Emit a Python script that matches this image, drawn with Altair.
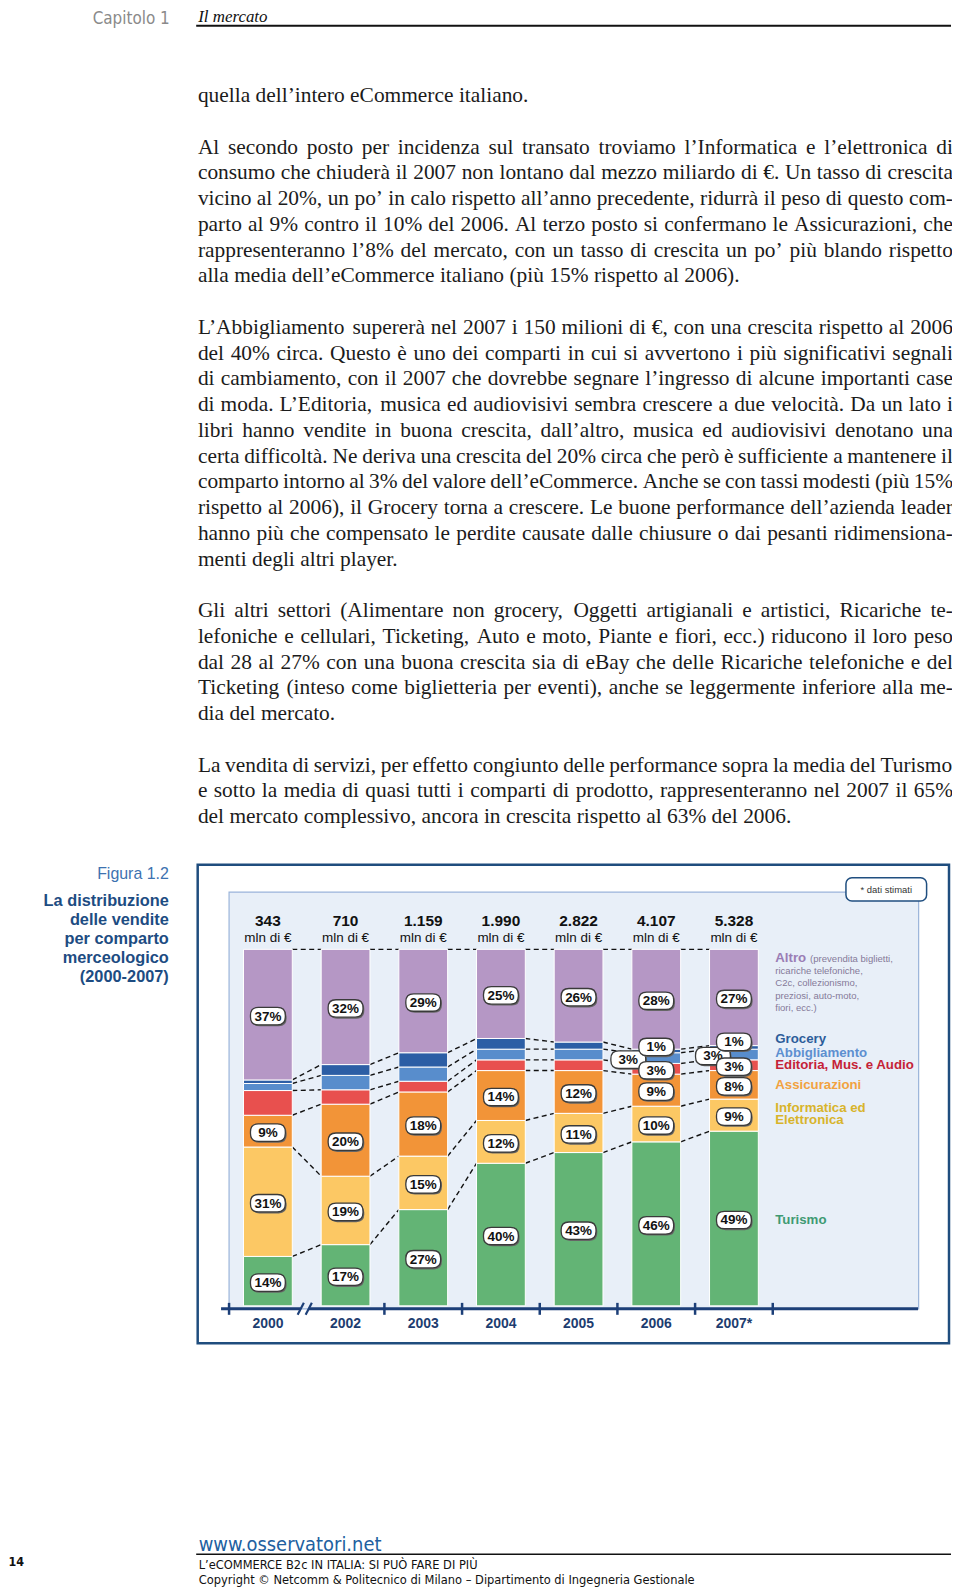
import altair as alt
import pandas as pd

# ---------------- chart data ----------------
years = ["2000", "2002", "2003", "2004", "2005", "2006", "2007*"]
totals = ["343", "710", "1.159", "1.990", "2.822", "4.107", "5.328"]
categories = ["Turismo", "Informatica ed Elettronica", "Assicurazioni",
              "Editoria, Mus. e Audio", "Abbigliamento", "Grocery", "Altro"]
turismo = [14, 17, 27, 40, 43, 46, 49]
informatica = [31, 19, 15, 12, 11, 10, 9]
assicurazioni = [9, 20, 18, 14, 12, 9, 8]
editoria = [7, 4, 3, 3, 3, 3, 3]
abbigliamento = [2, 4, 4, 3, 3, 3, 3]
grocery = [1, 3, 4, 3, 2, 1, 1]
altro = [37, 32, 29, 25, 26, 28, 27]
cat_colors = ["#63b475", "#fcc864", "#f29438", "#e8504e", "#588dcc", "#2c5ea5", "#b597c5"]

# ---------------- page text ----------------
paragraph_lines = [
    (0, "quella dell’intero eCommerce italiano.", False),
    (2, "Al secondo posto per incidenza sul transato troviamo l’Informatica e l’elettronica di", True),
    (3, "consumo che chiuderà il 2007 non lontano dal mezzo miliardo di €. Un tasso di crescita", True),
    (4, "vicino al 20%, un po’ in calo rispetto all’anno precedente, ridurrà il peso di questo com-", True),
    (5, "parto al 9% contro il 10% del 2006. Al terzo posto si confermano le Assicurazioni, che", True),
    (6, "rappresenteranno l’8% del mercato, con un tasso di crescita un po’ più blando rispetto", True),
    (7, "alla media dell’eCommerce italiano (più 15% rispetto al 2006).", False),
    (9, "L’Abbigliamento supererà nel 2007 i 150 milioni di €, con una crescita rispetto al 2006", True),
    (10, "del 40% circa. Questo è uno dei comparti in cui si avvertono i più significativi segnali", True),
    (11, "di cambiamento, con il 2007 che dovrebbe segnare l’ingresso di alcune importanti case", True),
    (12, "di moda. L’Editoria, musica ed audiovisivi sembra crescere a due velocità. Da un lato i", True),
    (13, "libri hanno vendite in buona crescita, dall’altro, musica ed audiovisivi denotano una", True),
    (14, "certa difficoltà. Ne deriva una crescita del 20% circa che però è sufficiente a mantenere il", True),
    (15, "comparto intorno al 3% del valore dell’eCommerce. Anche se con tassi modesti (più 15%", True),
    (16, "rispetto al 2006), il Grocery torna a crescere. Le buone performance dell’azienda leader", True),
    (17, "hanno più che compensato le perdite causate dalle chiusure o dai pesanti ridimensiona-", True),
    (18, "menti degli altri player.", False),
    (20, "Gli altri settori (Alimentare non grocery, Oggetti artigianali e artistici, Ricariche te-", True),
    (21, "lefoniche e cellulari, Ticketing, Auto e moto, Piante e fiori, ecc.) riducono il loro peso", True),
    (22, "dal 28 al 27% con una buona crescita sia di eBay che delle Ricariche telefoniche e del", True),
    (23, "Ticketing (inteso come biglietteria per eventi), anche se leggermente inferiore alla me-", True),
    (24, "dia del mercato.", False),
    (26, "La vendita di servizi, per effetto congiunto delle performance sopra la media del Turismo", True),
    (27, "e sotto la media di quasi tutti i comparti di prodotto, rappresenteranno nel 2007 il 65%", True),
    (28, "del mercato complessivo, ancora in crescita rispetto al 63% del 2006.", False),
]
caption_lines = ["La distribuzione", "delle vendite", "per comparto", "merceologico", "(2000-2007)"]
altro_notes = ["(prevendita biglietti,", "ricariche telefoniche,", "C2c, collezionismo,",
               "preziosi,  auto-moto,", "fiori, ecc.)"]

SANS = "Liberation Sans, Arial, sans-serif"
NARROW = "Liberation Sans Narrow, DejaVu Sans Condensed, sans-serif"
SERIF = "Liberation Serif, Times New Roman, serif"
OFF = 8  # page margin

ONE = pd.DataFrame({"k": [0]})


def T(s, x, y, size, color="#111111", font=SANS, weight="normal", align="left",
      baseline="middle", style="normal"):
    return alt.Chart(ONE).mark_text(
        text=s, font=font, fontSize=size, fontWeight=weight, fontStyle=style,
        align=align, baseline=baseline, color=color
    ).encode(x=alt.value(x - OFF), y=alt.value(y - OFF))


def RECT(x1, y1, x2, y2, fill, stroke=None, sw=1, radius=0):
    kw = dict(fill=fill)
    if stroke:
        kw["stroke"] = stroke
        kw["strokeWidth"] = sw
    if radius:
        kw["cornerRadius"] = radius
    return alt.Chart(ONE).mark_rect(**kw).encode(
        x=alt.value(x1 - OFF), x2=alt.value(x2 - OFF),
        y=alt.value(y1 - OFF), y2=alt.value(y2 - OFF))


def LINE(x1, y1, x2, y2, color, width):
    return alt.Chart(ONE).mark_rule(color=color, strokeWidth=width).encode(
        x=alt.value(x1 - OFF), x2=alt.value(x2 - OFF),
        y=alt.value(y1 - OFF), y2=alt.value(y2 - OFF))


# ---------------- chart tables ----------------
series = [turismo, informatica, assicurazioni, editoria, abbigliamento, grocery, altro]
HW = 0.314  # half bar width in band units
bar_rows, cum = [], {}
for i, yr in enumerate(years):
    tot = sum(s[i] for s in series)
    c = 0.0
    cum[i] = []
    for k, cat in enumerate(categories):
        v = series[k][i] * 100.0 / tot
        bar_rows.append(dict(year=yr, pos=i, cat=cat, lo=c, hi=c + v, share=series[k][i]))
        c += v
        cum[i].append(c)
bars = pd.DataFrame(bar_rows)
bars["xa"] = bars["pos"] - HW
bars["xb"] = bars["pos"] + HW

conn_rows = []
for i in range(len(years) - 1):
    for k in range(len(categories)):
        conn_rows.append(dict(xa=i + HW, xb=i + 1 - HW, ya=cum[i][k], yb=cum[i + 1][k]))
conn = pd.DataFrame(conn_rows)

big = {"Turismo", "Informatica ed Elettronica", "Assicurazioni", "Altro"}
shift = {("2006", "Grocery"): (0, 1.54), ("2006", "Abbigliamento"): (-0.36, 0),
         ("2007*", "Grocery"): (0, 1.96), ("2007*", "Abbigliamento"): (-0.27, 0)}
lab_rows = []
for r in bar_rows:
    if r["cat"] in big or r["year"] in ("2006", "2007*"):
        dx, dy = shift.get((r["year"], r["cat"]), (0, 0))
        lab_rows.append(dict(lx=r["pos"] + dx, ly=(r["lo"] + r["hi"]) / 2 + dy,
                             lab=f"{r['share']}%",
                             back=(r["cat"] == "Abbigliamento")))
labs = pd.DataFrame(lab_rows)
labs_back = labs[labs["back"]]
labs_front = labs[~labs["back"]]

tot_df = pd.DataFrame({"pos": list(range(len(years))), "total": totals, "year": years})

XS = alt.Scale(domain=[-0.5, 6.5], range=[230 - OFF, 776 - OFF], nice=False, zero=False)
YS = alt.Scale(domain=[0, 100], range=[1308 - OFF, 950 - OFF], nice=False, zero=False)

layers = []
# frames
layers.append(RECT(198.5, 865, 953, 1345.5, "white", "#1f4d7e", 2.5))
layers.append(RECT(230, 892.5, 922.5, 1311, "#e8eff8", "#9ab4da", 1.2))
layers.append(RECT(849.5, 878, 930.5, 901.5, "white", "#204f80", 1.5, 6))
layers.append(T("* dati stimati", 890, 890, 9.5, "#333333", align="center"))

# connectors
layers.append(alt.Chart(conn).mark_rule(strokeDash=[5, 3.5], strokeWidth=1.4, color="#111111").encode(
    x=alt.X("xa:Q", scale=XS, axis=None), x2="xb:Q",
    y=alt.Y("ya:Q", scale=YS, axis=None), y2="yb:Q"))

# stacked bars
layers.append(alt.Chart(bars).mark_rect(stroke="white", strokeWidth=1).encode(
    x=alt.X("xa:Q", scale=XS, axis=None), x2="xb:Q",
    y=alt.Y("lo:Q", scale=YS, axis=None), y2="hi:Q",
    color=alt.Color("cat:N", scale=alt.Scale(domain=categories, range=cat_colors), legend=None)))

# axis
axis_seg = pd.DataFrame({"a": [-0.603, 0.526], "b": [0.423, 8.37]})
layers.append(alt.Chart(axis_seg).mark_rule(color="#1c3f78", strokeWidth=3).encode(
    x=alt.X("a:Q", scale=XS, axis=None), x2="b:Q", y=alt.value(1311 - OFF)))
ticks = pd.DataFrame({"t": [-0.5, 1.5, 2.5, 3.5, 4.5, 5.5, 6.5]})
layers.append(alt.Chart(ticks).mark_rule(color="#1c3f78", strokeWidth=2.5).encode(
    x=alt.X("t:Q", scale=XS, axis=None), y=alt.value(1305 - OFF), y2=alt.value(1317 - OFF)))
slashes = pd.DataFrame({"a": [0.383, 0.486], "b": [0.463, 0.566]})
layers.append(alt.Chart(slashes).mark_rule(color="#1c3f78", strokeWidth=2.2).encode(
    x=alt.X("a:Q", scale=XS, axis=None), x2="b:Q",
    y=alt.value(1317 - OFF), y2=alt.value(1305 - OFF)))
layers.append(alt.Chart(tot_df).mark_text(font=SANS, fontWeight="bold", fontSize=14,
                                          color="#1d3d70", baseline="middle").encode(
    x=alt.X("pos:Q", scale=XS, axis=None), y=alt.value(1326 - OFF), text="year:N"))

# totals above bars
layers.append(alt.Chart(tot_df).mark_text(font=SANS, fontWeight="bold", fontSize=15.5,
                                          color="#111111", baseline="middle").encode(
    x=alt.X("pos:Q", scale=XS, axis=None), y=alt.value(922 - OFF), text="total:N"))
layers.append(alt.Chart(tot_df).mark_text(font=SANS, fontSize=13.5, text="mln di €",
                                          color="#111111", baseline="middle").encode(
    x=alt.X("pos:Q", scale=XS, axis=None), y=alt.value(938.5 - OFF)))

# label bubbles
BUB = ("M -0.55 -0.5 L 0.55 -0.5 Q 1 -0.5 1 -0.05 L 1 0.05 Q 1 0.5 0.55 0.5 "
       "L -0.55 0.5 Q -1 0.5 -1 0.05 L -1 -0.05 Q -1 -0.5 -0.55 -0.5 Z")
for part in (labs_back, labs_front):
    layers.append(alt.Chart(part).mark_point(shape=BUB, size=1225, filled=True, color="#666666",
                                             opacity=1, xOffset=1.3, yOffset=3).encode(
        x=alt.X("lx:Q", scale=XS, axis=None), y=alt.Y("ly:Q", scale=YS, axis=None)))
    layers.append(alt.Chart(part).mark_point(shape=BUB, size=1225, filled=True, color="white",
                                             stroke="#3a3a3a", strokeWidth=1.3, opacity=1,
                                             yOffset=1.5).encode(
        x=alt.X("lx:Q", scale=XS, axis=None), y=alt.Y("ly:Q", scale=YS, axis=None)))
    layers.append(alt.Chart(part).mark_text(font=SANS, fontWeight="bold", fontSize=13.5,
                                            color="#111111", baseline="middle", yOffset=2).encode(
        x=alt.X("lx:Q", scale=XS, axis=None), y=alt.Y("ly:Q", scale=YS, axis=None), text="lab:N"))

# custom legend
LX = 778.5
layers.append(T("Altro", LX, 958.5, 13.3, "#9a7db5", weight="bold"))
layers.append(T(altro_notes[0], LX + 35, 959.5, 9.6, "#857a99"))
for j, s in enumerate(altro_notes[1:]):
    layers.append(T(s, LX, 972 + 12.2 * j, 9.6, "#857a99"))
legend_items = [("Grocery", 1040.5, "#2d5d9a"), ("Abbigliamento", 1054, "#5d8fd0"),
                ("Editoria, Mus. e Audio", 1066.5, "#c52237"), ("Assicurazioni", 1086.7, "#f2a23f"),
                ("Informatica ed", 1109.5, "#d8b42b"), ("Elettronica", 1121.5, "#d8b42b"),
                ("Turismo", 1221.5, "#3e9a73")]
for s, yy, col in legend_items:
    layers.append(T(s, LX, yy, 13.3, col, weight="bold"))

# figure caption
layers.append(T("Figura 1.2", 169.5, 874.5, 16, "#3d72b0", align="right"))
for j, s in enumerate(caption_lines):
    layers.append(T(s, 169.5, 901 + 19.2 * j, 16.4, "#1d4c82", weight="bold", align="right"))

# header
layers.append(T("Capitolo 1", 93, 20.5, 17, "#8a8a8a", NARROW, baseline="alphabetic"))
layers.append(T("Il mercato", 199, 19, 17, "#111111", SERIF, baseline="alphabetic", style="italic"))
layers.append(LINE(197, 22.5, 955, 22.5, "#111111", 2))

# body text, justified word by word with Times metrics
TW = {" ": 250, ".": 250, ",": 250, "’": 333, "(": 333, ")": 333, "%": 833, "€": 500,
      "-": 333, ":": 278, "à": 444, "è": 444, "é": 444, "ì": 278, "ò": 500, "ù": 500}
for ch, w in zip("abcdefghijklmnopqrstuvwxyz",
                 [444, 500, 444, 500, 444, 333, 500, 500, 278, 278, 500, 278, 778,
                  500, 500, 500, 500, 333, 389, 278, 500, 500, 722, 500, 500, 444]):
    TW[ch] = w
for ch, w in zip("ABCDEFGHIJKLMNOPQRSTUVWXYZ",
                 [722, 667, 667, 722, 611, 556, 722, 722, 333, 389, 722, 611, 889,
                  722, 722, 556, 722, 667, 556, 611, 722, 722, 944, 722, 722, 611]):
    TW[ch] = w
for ch in "0123456789":
    TW[ch] = 500

X0, X1, FS = 198.7, 957.0, 21.5
word_rows = []
for n, line, just in paragraph_lines:
    yb = 99.3 + 25.85 * n
    words = line.split(" ")
    fs = FS
    widths = [sum(TW.get(c, 500) for c in w) / 1000 * fs for w in words]
    gap = 0.25 * fs
    if just and len(words) > 1:
        gap = (X1 - X0 - sum(widths)) / (len(words) - 1)
        if gap < 0.16 * fs:
            scale = (X1 - X0 - 0.16 * fs * (len(words) - 1)) / sum(widths)
            fs = fs * scale
            widths = [w * scale for w in widths]
            gap = (X1 - X0 - sum(widths)) / (len(words) - 1)
    x = X0
    for w, wd in zip(words, widths):
        word_rows.append(dict(x=x - OFF, y=yb - OFF, t=w, fs=fs))
        x += wd + gap
words_df = pd.DataFrame(word_rows)
layers.append(alt.Chart(words_df).mark_text(align="left", baseline="alphabetic", font=SERIF,
                                            color="#1b1b1b").encode(
    x=alt.X("x:Q", scale=None, axis=None), y=alt.Y("y:Q", scale=None, axis=None),
    text="t:N", size=alt.Size("fs:Q", scale=None, legend=None)))

# footer
layers.append(T("www.osservatori.net", 199.5, 1548, 20, "#2160a0", NARROW))
layers.append(LINE(197, 1557.5, 955, 1557.5, "#111111", 1.5))
layers.append(T("14", 8.5, 1565.5, 12.5, "#111111", NARROW, weight="bold"))
layers.append(T("L’eCOMMERCE B2c IN ITALIA: SI PUÒ FARE DI PIÙ", 199.5, 1568.5, 12.8, "#111111", NARROW))
layers.append(T("Copyright © Netcomm & Politecnico di Milano – Dipartimento di Ingegneria Gestionale",
                199.5, 1583, 12.8, "#111111", NARROW))

chart = alt.layer(*layers).resolve_scale(
    x="independent", y="independent", color="independent", size="independent"
).properties(
    width=948, height=1581, padding=0, background="white",
    autosize=alt.AutoSizeParams(type="none")
).configure_view(strokeWidth=0)

chart.save("out.html", embed_options={"renderer": "svg", "actions": False})
